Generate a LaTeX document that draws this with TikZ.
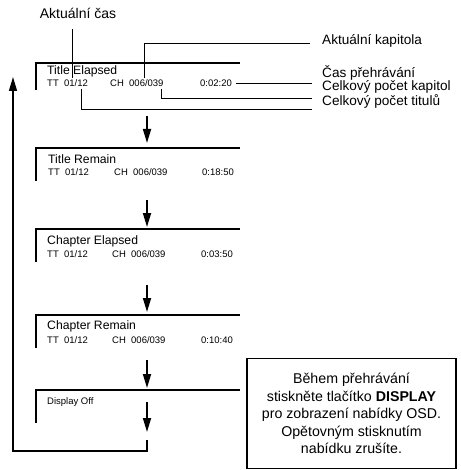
\documentclass[tikz,border=0pt]{standalone}
\usepackage{fontspec}
\setmainfont{Liberation Sans}
\usetikzlibrary{arrows.meta}
\begin{document}
\begin{tikzpicture}[x=1pt,y=-1pt,
  scr/.style={line width=1.8pt},
  ttl/.style={anchor=west, inner sep=0pt, font=\fontsize{12.2}{14}\selectfont},
  rowtxt/.style={anchor=west, inner sep=0pt, font=\fontsize{9.5}{11}\selectfont},
  lab/.style={anchor=west, inner sep=0pt, font=\fontsize{13.6}{16}\selectfont},
  thinln/.style={line width=0.6pt},
  flow/.style={line width=1.7pt, -{Triangle[length=14pt,width=8pt]}},
  loopln/.style={line width=1.4pt, -{Triangle[length=14pt,width=8pt]}},
  infobox/.style={draw, line width=1.1pt, align=center, minimum width=209pt, minimum height=110pt, inner sep=0pt, font=\fontsize{14.2}{17.5}\selectfont}
]
\useasboundingbox (0,0) rectangle (460,470);

% top label
\node[anchor=center, inner sep=0pt, font=\fontsize{14}{16}\selectfont] (akcas) at (78,13) {Aktuální čas};

% screen 1
\draw[scr] (36,90) -- (36,63) -- (240,63);
\node[ttl] (t1) at (47,71) {Title Elapsed};
\node[rowtxt] (tt1) at (47,83) {TT\ \ 01/12};
\node[rowtxt] (ch1) at (110,83) {CH\ \ 006/039};
\node[rowtxt] (tm1) at (200,83) {0:02:20};

% annotation labels
\node[lab] (lkap) at (322,41) {Aktuální kapitola};
\node[lab] (lcas) at (322,72.5) {Čas přehrávání};
\node[lab] (lcpk) at (322,87) {Celkový počet kapitol};
\node[lab] (lcpt) at (322,101) {Celkový počet titulů};

% annotation connectors
\draw[thinln] (72,29) -- (72,78);
\draw[thinln] (144,78) -- (144,43) -- (310,43);
\draw[thinln] (tm1.east) ++(4,0) -- (312,83);
\draw[thinln] (161,89) -- (161,98) -- (312,98);
\draw[thinln] (81,89) -- (81,109) -- (312,109);

% screen 2
\draw[scr] (36,181) -- (36,148) -- (240,148);
\node[ttl] (t2) at (48,159) {Title Remain};
\node[rowtxt] (tt2) at (48,172) {TT\ \ 01/12};
\node[rowtxt] (ch2) at (114,172) {CH\ \ 006/039};
\node[rowtxt] (tm2) at (202,172) {0:18:50};

% screen 3
\draw[scr] (36,262) -- (36,229) -- (240,229);
\node[ttl] (t3) at (47,241) {Chapter Elapsed};
\node[rowtxt] (tt3) at (47,254) {TT\ \ 01/12};
\node[rowtxt] (ch3) at (112,254) {CH\ \ 006/039};
\node[rowtxt] (tm3) at (201,254) {0:03:50};

% screen 4
\draw[scr] (36,348) -- (36,315) -- (240,315);
\node[ttl] (t4) at (47,326) {Chapter Remain};
\node[rowtxt] (tt4) at (47,340) {TT\ \ 01/12};
\node[rowtxt] (ch4) at (112,340) {CH\ \ 006/039};
\node[rowtxt] (tm4) at (201,340) {0:10:40};

% screen 5
\draw[scr] (36,423) -- (36,390) -- (240,390);
\node[rowtxt] (t5) at (47,402) {Display Off};

% flow arrows
\coordinate (a1s) at (147,116); \coordinate (a1e) at (147,143);
\coordinate (a2s) at (147,200); \coordinate (a2e) at (147,227);
\coordinate (a3s) at (147,285); \coordinate (a3e) at (147,312);
\coordinate (a4s) at (147,360); \coordinate (a4e) at (147,388);
\coordinate (a5s) at (147,402); \coordinate (a5e) at (147,432);
\draw[flow] (a1s) -- (a1e);
\draw[flow] (a2s) -- (a2e);
\draw[flow] (a3s) -- (a3e);
\draw[flow] (a4s) -- (a4e);
\draw[flow] (a5s) -- (a5e);

% loop back
\coordinate (ls) at (147,440);
\coordinate (le) at (13,77);
\draw[loopln] (ls) -- (147,451) -| (le);

% info box
\node[infobox] (info) at (351.5,413.5) {Během přehrávání\\stiskněte tlačítko \textbf{DISPLAY}\\pro zobrazení nabídky OSD.\\Opětovným stisknutím\\nabídku zrušíte.};
\end{tikzpicture}
\end{document}
